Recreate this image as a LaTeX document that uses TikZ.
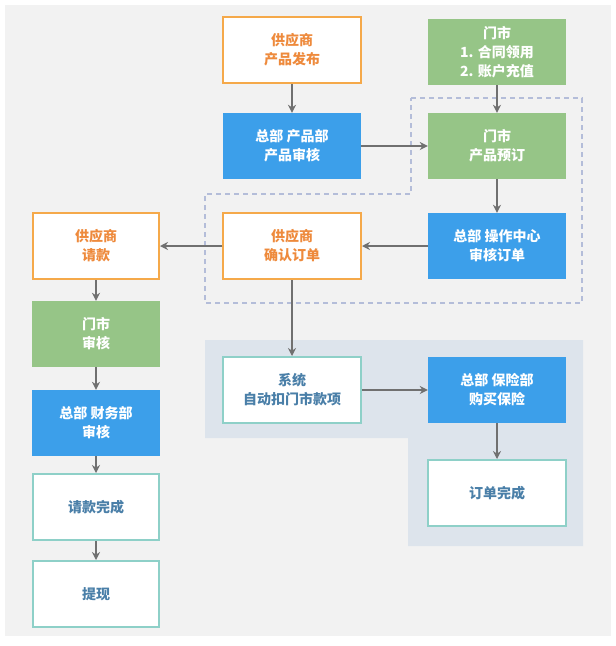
\documentclass[tikz,border=0pt]{standalone}
\usepackage{fontspec}
\newfontfamily\cjk{Noto Sans CJK SC}
\usetikzlibrary{arrows.meta}
\definecolor{bgc}{HTML}{F2F2F2}
\definecolor{ora}{HTML}{F5A94A}
\definecolor{orat}{HTML}{EE8A3C}
\definecolor{grn}{HTML}{96C587}
\definecolor{blu}{HTML}{3C9FEA}
\definecolor{tea}{HTML}{8ED0C8}
\definecolor{teat}{HTML}{4A7FA8}
\definecolor{shadec}{HTML}{DDE4EC}
\definecolor{dashc}{HTML}{B4BDD9}
\definecolor{arr}{HTML}{707070}
\begin{document}
\begin{tikzpicture}[x=1pt,y=-1pt,
 box/.style={minimum width=138pt,minimum height=66pt,inner sep=0pt,align=center,font=\cjk\bfseries\fontsize{14}{19}\selectfont},
 obox/.style={box,draw=ora,line width=2pt,fill=white,text=orat},
 gbox/.style={box,fill=grn,text=white},
 bbox/.style={box,fill=blu,text=white},
 tbox/.style={box,draw=tea,line width=2pt,fill=white,text=teat},
 ar/.style={draw=arr,line width=1.6pt,-{Stealth[length=8pt,width=8pt]}}]
\useasboundingbox (0,0) rectangle (616,646);
\fill[white] (0,0) rectangle (616,646);
\fill[bgc] (5,5) rectangle (611,636);
\fill[shadec] (205,340) -- (583,340) -- (583,546) -- (408,546) -- (408,438) -- (205,438) -- cycle;
\draw[dashc,line width=1.2pt,dash pattern=on 5pt off 4pt] (411,98) -- (582,98) -- (582,303) -- (205,303) -- (205,194) -- (411,194) -- cycle;
\node[obox] (a) at (292,50) {供应商\\产品发布};
\node[gbox] (b) at (497,52) {门市\\1. 合同领用\\2. 账户充值};
\node[bbox] (c) at (292,146) {总部 产品部\\产品审核};
\node[gbox] (d) at (497,146) {门市\\产品预订};
\node[obox,minimum width=126pt] (e) at (96,246) {供应商\\请款};
\node[obox] (f) at (292,246) {供应商\\确认订单};
\node[bbox] (g) at (497,246) {总部 操作中心\\审核订单};
\node[gbox,minimum width=128pt] (h) at (96,334) {门市\\审核};
\node[tbox] (i) at (292,390) {系统\\自动扣门市款项};
\node[bbox] (j) at (497,390) {总部 保险部\\购买保险};
\node[bbox,minimum width=128pt] (k) at (96,423) {总部 财务部\\审核};
\node[tbox] (l) at (497,493) {订单完成};
\node[tbox,minimum width=126pt] (m) at (96,507) {请款完成};
\node[tbox,minimum width=126pt] (n) at (96,594) {提现};
\draw[ar] (a) -- (c);
\draw[ar] (b) -- (d);
\draw[ar] (c) -- (d);
\draw[ar] (d) -- (g);
\draw[ar] (g) -- (f);
\draw[ar] (f) -- (e);
\draw[ar] (f) -- (i);
\draw[ar] (i) -- (j);
\draw[ar] (j) -- (l);
\draw[ar] (e) -- (h);
\draw[ar] (h) -- (k);
\draw[ar] (k) -- (m);
\draw[ar] (m) -- (n);
\end{tikzpicture}
\end{document}
